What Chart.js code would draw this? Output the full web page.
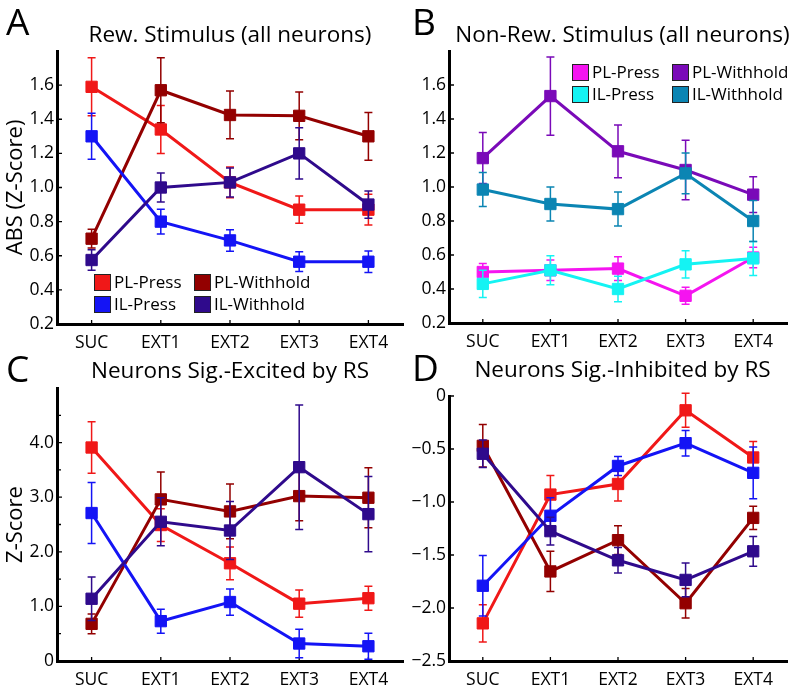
<!DOCTYPE html>
<html><head><meta charset="utf-8">
<script src="https://cdn.jsdelivr.net/npm/chart.js@4"></script>
<style>
html,body{margin:0;padding:0;background:#fff;}
#wrap{position:relative;width:796px;height:685px;overflow:hidden;font-family:'Open Sans',sans-serif;background:#fff;}
canvas{position:absolute;left:0;top:0;}
.lbl{position:absolute;line-height:1;white-space:nowrap;color:#000;}
.letter{font-size:37px;}
.title{font-size:22.5px;text-align:center;}
</style></head>
<body><div id="wrap">
<canvas id="cA" width="796" height="685"></canvas>
<canvas id="cB" width="796" height="685"></canvas>
<canvas id="cC" width="796" height="685"></canvas>
<canvas id="cD" width="796" height="685"></canvas>
<div class="lbl letter" style="left:6px;top:2px">A</div>
<div class="lbl letter" style="left:412px;top:2px">B</div>
<div class="lbl letter" style="left:6px;top:349px">C</div>
<div class="lbl letter" style="left:412px;top:348px">D</div>
<div class="lbl title" style="left:57px;width:346px;top:23px">Rew. Stimulus (all neurons)</div>
<div class="lbl title" style="left:449px;width:347px;top:23px">Non-Rew. Stimulus (all neurons)</div>
<div class="lbl title" style="left:57px;width:346px;top:359px">Neurons Sig.-Excited by RS</div>
<div class="lbl title" style="left:449px;width:347px;top:358px">Neurons Sig.-Inhibited by RS</div>
</div>
<script>
const categories = ['SUC','EXT1','EXT2','EXT3','EXT4'];
const seriesNames = ['PL-Press','IL-Press','PL-Withhold','IL-Withhold'];

// Panel A: Rew. Stimulus (all neurons)
const aPLPress     = [1.59, 1.34, 1.03, 0.87, 0.87];
const aPLPressErr  = [0.17, 0.14, 0.09, 0.08, 0.09];
const aILPress     = [1.30, 0.80, 0.69, 0.565, 0.565];
const aILPressErr  = [0.135, 0.073, 0.063, 0.058, 0.063];
const aPLWith      = [0.70, 1.57, 1.425, 1.42, 1.30];
const aPLWithErr   = [0.055, 0.19, 0.14, 0.14, 0.14];
const aILWith      = [0.575, 1.00, 1.03, 1.20, 0.90];
const aILWithErr   = [0.06, 0.085, 0.085, 0.15, 0.08];

// Panel B: Non-Rew. Stimulus (all neurons)
const bPLPress     = [0.50, 0.51, 0.52, 0.36, 0.585];
const bPLPressErr  = [0.05, 0.06, 0.07, 0.05, 0.06];
const bILPress     = [0.43, 0.51, 0.40, 0.545, 0.58];
const bILPressErr  = [0.08, 0.085, 0.075, 0.08, 0.10];
const bPLWith      = [1.17, 1.535, 1.21, 1.10, 0.955];
const bPLWithErr   = [0.15, 0.23, 0.155, 0.175, 0.105];
const bILWith      = [0.985, 0.90, 0.87, 1.08, 0.80];
const bILWithErr   = [0.10, 0.10, 0.10, 0.12, 0.12];

// Panel C: Neurons Sig.-Excited by RS
const cPLPress     = [3.91, 2.49, 1.79, 1.05, 1.15];
const cPLPressErr  = [0.47, 0.30, 0.30, 0.25, 0.22];
const cILPress     = [2.71, 0.73, 1.08, 0.32, 0.27];
const cILPressErr  = [0.56, 0.22, 0.24, 0.26, 0.24];
const cPLWith      = [0.68, 2.96, 2.74, 3.02, 2.99];
const cPLWithErr   = [0.18, 0.50, 0.50, 0.45, 0.55];
const cILWith      = [1.14, 2.55, 2.39, 3.55, 2.69];
const cILWithErr   = [0.40, 0.44, 0.53, 1.14, 0.69];

// Panel D: Neurons Sig.-Inhibited by RS
const dPLPress     = [-2.145, -0.93, -0.83, -0.135, -0.58];
const dPLPressErr  = [0.175, 0.18, 0.16, 0.16, 0.15];
const dILPress     = [-1.79, -1.13, -0.66, -0.445, -0.725];
const dILPressErr  = [0.285, 0.17, 0.09, 0.12, 0.245];
const dPLWith      = [-0.47, -1.655, -1.36, -1.955, -1.15];
const dPLWithErr   = [0.20, 0.19, 0.135, 0.14, 0.11];
const dILWith      = [-0.545, -1.275, -1.55, -1.735, -1.465];
const dILWithErr   = [0.13, 0.13, 0.12, 0.16, 0.14];

// Tick values / labels
const yTicksA = [0.2,0.4,0.6,0.8,1.0,1.2,1.4,1.6];
const yLabelsA = ['0.2','0.4','0.6','0.8','1.0','1.2','1.4','1.6'];
const yTicksC = [0,1,2,3,4];
const yLabelsC = ['0','1.0','2.0','3.0','4.0'];
const yMinorC = [0.5,1.5,2.5,3.5,4.5];
const yTicksD = [-2.5,-2.0,-1.5,-1.0,-0.5,0];
const yLabelsD = ['\u22122.5','\u22122.0','\u22121.5','\u22121.0','\u22120.5','0'];

const colorsRB = ['#f01818','#1414f5','#930000','#2f0a8c'];
const colorsB  = ['#f514f0','#14f3f3','#7a0ab8','#0b85b3'];

const FONT = "'Open Sans', sans-serif";
Chart.defaults.font.family = FONT;
Chart.defaults.color = '#000';

const errorBars = {
  id: 'errorBars',
  beforeDatasetDraw(chart, args) {
    const ds = chart.data.datasets[args.index];
    if (!ds.errors) return;
    const ys = chart.scales.y, ctx = chart.ctx;
    ctx.save();
    ctx.strokeStyle = ds.borderColor; ctx.lineWidth = 1.5;
    args.meta.data.forEach((pt, i) => {
      const v = ds.data[i], e = ds.errors[i];
      const y1 = ys.getPixelForValue(v + e), y2 = ys.getPixelForValue(v - e);
      ctx.beginPath();
      ctx.moveTo(pt.x, y1); ctx.lineTo(pt.x, y2);
      ctx.moveTo(pt.x - 4, y1); ctx.lineTo(pt.x + 4, y1);
      ctx.moveTo(pt.x - 4, y2); ctx.lineTo(pt.x + 4, y2);
      ctx.stroke();
    });
    ctx.restore();
  }
};

const inwardTicks = {
  id: 'inwardTicks',
  beforeDatasetsDraw(chart, args, opts) {
    const ctx = chart.ctx, a = chart.chartArea, xs = chart.scales.x, ys = chart.scales.y;
    ctx.save(); ctx.strokeStyle = '#000'; ctx.lineWidth = 1.3;
    ctx.beginPath();
    ys.ticks.forEach(t => { const py = ys.getPixelForValue(t.value); ctx.moveTo(a.left, py); ctx.lineTo(a.left + 5, py); });
    (opts.minor || []).forEach(v => { const py = ys.getPixelForValue(v); ctx.moveTo(a.left, py); ctx.lineTo(a.left + 4, py); });
    xs.ticks.forEach((t, i) => { const px = xs.getPixelForTick(i); ctx.moveTo(px, a.bottom); ctx.lineTo(px, a.bottom - 4); });
    ctx.stroke(); ctx.restore();
  }
};

const boxLegend = {
  id: 'boxLegend',
  afterDraw(chart, args, o) {
    if (!o || !o.display) return;
    const ctx = chart.ctx;
    ctx.save();
    ctx.font = o.fontSize + 'px ' + FONT;
    ctx.textBaseline = 'middle'; ctx.textAlign = 'left';
    chart.data.datasets.forEach((ds, i) => {
      const col = Math.floor(i / 2), row = i % 2;
      const x = o.left + col * o.colW, y = o.top + row * o.rowH;
      ctx.fillStyle = ds.borderColor;
      ctx.fillRect(x, y, o.box, o.box);
      ctx.strokeStyle = '#222'; ctx.lineWidth = 1;
      ctx.strokeRect(x + 0.5, y + 0.5, o.box - 1, o.box - 1);
      ctx.fillStyle = '#000';
      ctx.fillText(ds.label, x + o.box + 3, y + o.box / 2 + 1);
    });
    ctx.restore();
  }
};

const Y_W = 57, X_H = 24;

function makeChart(id, vals, errs, colors, area, yCfg, legend, yTitle) {
  const order = [4, 2, 3, 1];
  const datasets = vals.map((v, i) => ({
    label: seriesNames[i],
    data: v,
    errors: errs[i],
    borderColor: colors[i],
    backgroundColor: colors[i],
    pointBackgroundColor: colors[i],
    pointBorderColor: colors[i],
    borderWidth: 3,
    pointStyle: 'rect',
    pointRadius: 8,
    pointBorderWidth: 1,
    tension: 0,
    order: order[i],
    clip: false
  }));
  return new Chart(document.getElementById(id), {
    type: 'line',
    data: { labels: categories, datasets },
    plugins: [errorBars, inwardTicks, boxLegend],
    options: {
      responsive: false, animation: false, devicePixelRatio: 1,
      events: [],
      layout: { padding: { left: area.left - Y_W, right: 796 - area.right, top: area.top, bottom: 685 - area.bottom - X_H } },
      plugins: {
        legend: { display: false }, tooltip: { enabled: false },
        inwardTicks: { minor: yCfg.minor || [] },
        boxLegend: legend || { display: false }
      },
      scales: {
        x: {
          type: 'category', offset: true,
          grid: { display: false, drawTicks: false },
          border: { display: true, color: '#000', width: 3 },
          ticks: { font: { size: 17.5 }, color: '#000', padding: 9, autoSkip: false, maxRotation: 0 },
          afterFit: s => { s.height = X_H; }
        },
        y: {
          min: yCfg.min, max: yCfg.max,
          grid: { display: false, drawTicks: false },
          border: { display: true, color: '#000', width: 3 },
          afterBuildTicks: s => { s.ticks = yCfg.ticks.map(v => ({ value: v })); },
          ticks: { font: { size: 17.5 }, color: '#000', padding: 3, autoSkip: false,
                   callback: (v, i) => yCfg.labels[i] },
          title: yTitle ? { display: true, text: yTitle, font: { size: 22 }, color: '#000', padding: { top: 3, bottom: 0 } } : { display: false },
          afterFit: s => { s.width = Y_W; }
        }
      }
    }
  });
}

makeChart('cA', [aPLPress, aILPress, aPLWith, aILWith], [aPLPressErr, aILPressErr, aPLWithErr, aILWithErr],
  colorsRB, { left: 57, right: 403, top: 51, bottom: 324 },
  { min: 0.2, max: 1.8, ticks: yTicksA, labels: yLabelsA },
  { display: true, left: 94, top: 274, colW: 100, rowH: 22, box: 17, fontSize: 17 }, 'ABS (Z-Score)');

makeChart('cB', [bPLPress, bILPress, bPLWith, bILWith], [bPLPressErr, bILPressErr, bPLWithErr, bILWithErr],
  colorsB, { left: 449, right: 795, top: 51, bottom: 323 },
  { min: 0.2, max: 1.8, ticks: yTicksA, labels: yLabelsA },
  { display: true, left: 572, top: 64, colW: 100, rowH: 22, box: 17, fontSize: 17 }, null);

makeChart('cC', [cPLPress, cILPress, cPLWith, cILWith], [cPLPressErr, cILPressErr, cPLWithErr, cILWithErr],
  colorsRB, { left: 57, right: 403, top: 388, bottom: 661 },
  { min: 0, max: 5, ticks: yTicksC, labels: yLabelsC, minor: yMinorC }, null, 'Z-Score');

makeChart('cD', [dPLPress, dILPress, dPLWith, dILWith], [dPLPressErr, dILPressErr, dPLWithErr, dILWithErr],
  colorsRB, { left: 449, right: 795, top: 396, bottom: 661 },
  { min: -2.5, max: 0, ticks: yTicksD, labels: yLabelsD }, null, null);
</script>
</body></html>
